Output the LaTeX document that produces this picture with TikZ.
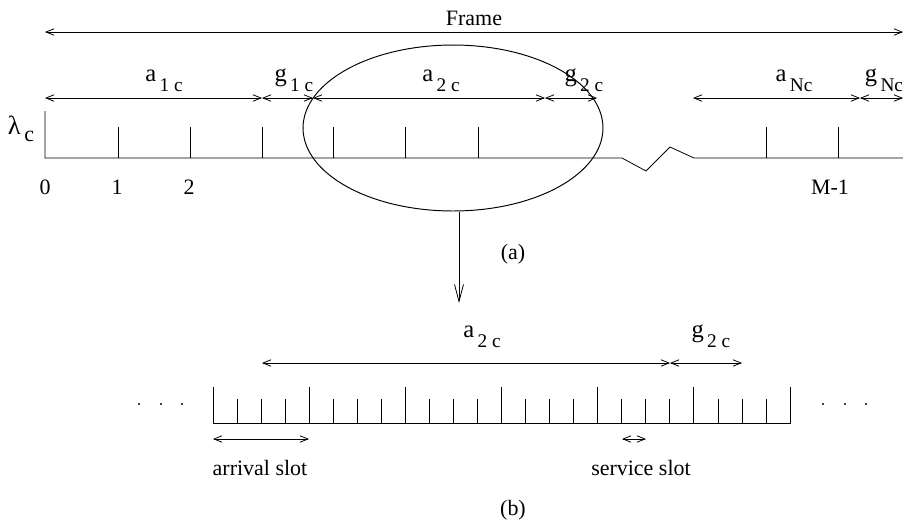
\documentclass[tikz,border=0pt]{standalone}
\usepackage{fontspec}
\setmainfont{Liberation Serif}
\usetikzlibrary{arrows.meta}
% letter with a lowered index, as in a_{1 c}
\newcommand{\sublbl}[3][6pt]{{\fontsize{14}{16}\selectfont #2}\raisebox{-#1}{\fontsize{11}{12}\selectfont\,#3}}
\tikzset{
  lbl/.style={inner sep=0pt,font=\fontsize{12.5}{14}\selectfont},
  dim/.style={{Straight Barb[length=1.6mm,width=1.3mm]}-{Straight Barb[length=1.6mm,width=1.3mm]},line width=0.45pt},
  down/.style={-{Straight Barb[length=3.4mm,width=1.8mm]},line width=0.45pt},
  axis/.style={line width=0.45pt}
}
\begin{document}
\begin{tikzpicture}[x=0.02cm,y=-0.02cm]
\useasboundingbox (0,0) rectangle (903,522);
% (a) frame
\coordinate (f0) at (45,32);
\coordinate (f1) at (903,32);
\draw[dim] (f0) -- (f1);
\node[lbl] (frame) at (474,18) {Frame};
\coordinate (t0) at (45,98);
\coordinate (t1) at (262,98);
\coordinate (t2) at (313,98);
\coordinate (t3) at (545,98);
\coordinate (t4) at (597,98);
\coordinate (t5) at (693,98);
\coordinate (t6) at (860,98);
\coordinate (t7) at (903,98);
\draw[dim] (t0) -- (t1);
\draw[dim] (t1) -- (t2);
\draw[dim] (t2) -- (t3);
\draw[dim] (t3) -- (t4);
\draw[dim] (t5) -- (t6);
\draw[dim] (t6) -- (t7);
\node[lbl,anchor=base] (a1) at (164,81) {\sublbl{a}{1 c}};
\node[lbl,anchor=base] (g1) at (294,81) {\sublbl{g}{1 c}};
\node[lbl,anchor=base] (a2) at (441,81) {\sublbl{a}{2 c}};
\node[lbl,anchor=base] (g2) at (584,81) {\sublbl{g}{2 c}};
\node[lbl,anchor=base] (aN) at (794,81) {\sublbl{a}{Nc}};
\node[lbl,anchor=base] (gN) at (884,81) {\sublbl{g}{Nc}};
% time axis
\draw[axis] (45,111) -- (45,158) -- (622,158) -- (646,171) -- (670,147) -- (694,158) -- (903,158);
\foreach \x in {118,190,262,333,405,478,766,838}
  \draw[axis] (\x,127) -- (\x,158);
\node[lbl] (lam) at (21,129) {\fontsize{15}{16}\selectfont λ\raisebox{-0.6ex}{\fontsize{12.5}{14}\selectfont\,c}};
\node[lbl] (n0) at (45,187) {0};
\node[lbl] (n1) at (117,187) {1};
\node[lbl] (n2) at (189,187) {2};
\node[lbl] (nM) at (830,187) {M-1};
% zoom
\draw[line width=0.55pt] (453,128) ellipse [x radius=3cm,y radius=1.66cm];
\coordinate (zb) at (459,212);
\coordinate (ze) at (459,303);
\draw[down] (zb) -- (ze);
\node[lbl] (capa) at (513,254) {(a)};
% (b) slots
\draw[axis] (213,387) -- (213,423) -- (790,423) -- (790,387);
\foreach \i in {1,...,5}
  \draw[axis] (213+\i*96.17,387) -- (213+\i*96.17,423);
\foreach \i in {0,...,5}
  \foreach \j in {1,2,3}
    \draw[axis] (213+\i*96.17+\j*24.04,399) -- (213+\i*96.17+\j*24.04,423);
\foreach \x in {139,161,182,823,845,866}
  \fill (\x,404) circle (0.7pt);
\coordinate (b0) at (262,363);
\coordinate (b1) at (670,363);
\coordinate (b2) at (742,363);
\draw[dim] (b0) -- (b1);
\draw[dim] (b1) -- (b2);
\node[lbl,anchor=base] (ba2) at (482,337) {\sublbl{a}{2 c}};
\node[lbl,anchor=base] (bg2) at (711,337) {\sublbl{g}{2 c}};
\coordinate (s0) at (213,439);
\coordinate (s1) at (309,439);
\coordinate (s2) at (622,439);
\coordinate (s3) at (646,439);
\draw[dim] (s0) -- (s1);
\draw[dim] (s2) -- (s3);
\node[lbl] (arr) at (260,468) {arrival slot};
\node[lbl] (srv) at (641,468) {service slot};
\node[lbl] (capb) at (513,510) {(b)};
\end{tikzpicture}
\end{document}
